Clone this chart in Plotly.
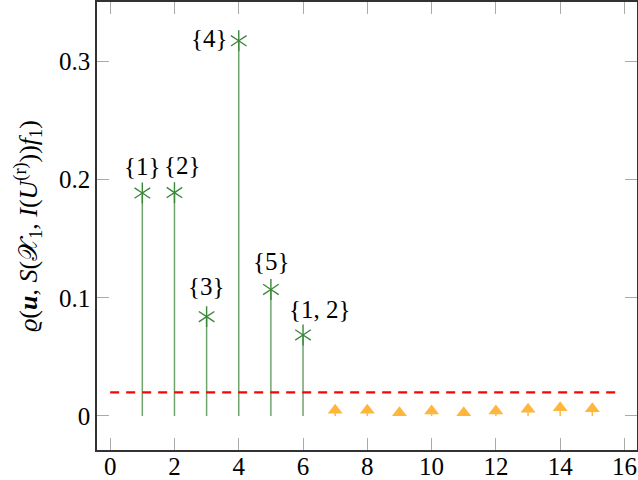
import plotly.graph_objects as go

# ---- data ----
sets_x = [1, 2, 3, 4, 5, 6]
sets_y = [0.1886, 0.189, 0.084, 0.3174, 0.107, 0.0685]
set_labels = ["{1}", "{2}", "{3}", "{4}", "{5}", "{1, 2}"]

rest_x = [7, 8, 9, 10, 11, 12, 13, 14, 15]
rest_y = [0.0048, 0.0048, 0.0028, 0.0042, 0.0028, 0.0042, 0.0057, 0.007, 0.0062]

threshold = 0.02
threshold_x = [0, 15.75]

x_ticks = [0, 2, 4, 6, 8, 10, 12, 14, 16]
y_ticks = [0, 0.1, 0.2, 0.3]
y_tick_text = ["0", "0.1", "0.2", "0.3"]

# label offsets (pixels) for the nodes near coords
label_shift = [(0, 27), (8, 27), (0, 30), (-29, 2), (1, 28), (17, 25)]

FONT = "Liberation Serif, Times New Roman, serif"
GREEN_STEM = "rgb(110,165,110)"
GREEN_MARK = "rgb(60,135,60)"
ORANGE = "rgb(255,182,60)"

def stems(xs, ys):
    sx, sy = [], []
    for x, y in zip(xs, ys):
        sx += [x, x, None]
        sy += [0, y, None]
    return sx, sy

fig = go.Figure()

gx, gy = stems(sets_x, sets_y)
fig.add_trace(go.Scatter(x=gx, y=gy, mode="lines",
                         line=dict(color=GREEN_STEM, width=1.5),
                         hoverinfo="skip", showlegend=False))
for sym in ["y-up-open", "y-down-open"]:
    fig.add_trace(go.Scatter(x=sets_x, y=sets_y, mode="markers",
                             marker=dict(symbol=sym, size=13, color=GREEN_MARK,
                                         line=dict(color=GREEN_MARK, width=1.4)),
                             hoverinfo="skip", showlegend=False))

ox, oy = stems(rest_x, rest_y)
fig.add_trace(go.Scatter(x=ox, y=oy, mode="lines",
                         line=dict(color=ORANGE, width=1.5),
                         hoverinfo="skip", showlegend=False))
fig.add_trace(go.Scatter(x=rest_x, y=rest_y, mode="markers",
                         marker=dict(symbol="triangle-up", size=13, color=ORANGE,
                                     line=dict(width=0)),
                         hoverinfo="skip", showlegend=False))

fig.add_trace(go.Scatter(x=threshold_x, y=[threshold, threshold], mode="lines",
                         line=dict(color="rgb(255,0,0)", width=2.2, dash="9px,7px"),
                         hoverinfo="skip", showlegend=False))

for x, y, t, (dx, dy) in zip(sets_x, sets_y, set_labels, label_shift):
    fig.add_annotation(x=x, y=y, text=t, showarrow=False, xshift=dx, yshift=dy,
                       font=dict(family=FONT, size=25, color="black"))

axis_common = dict(showgrid=False, zeroline=False, showline=True, mirror="allticks",
                   linecolor="rgb(50,50,50)", linewidth=1.5, automargin=False,
                   ticks="inside", ticklen=12, tickwidth=1, tickcolor="rgb(170,170,170)",
                   tickfont=dict(family=FONT, size=25, color="black"))

fig.update_xaxes(range=[-0.41, 16.39], tickvals=x_ticks,
                 ticktext=[str(v) for v in x_ticks], ticklabelstandoff=-7,
                 **axis_common)
fig.update_yaxes(range=[-0.0288, 0.3502], tickvals=y_ticks, ticktext=y_tick_text,
                 title=dict(text="<i>ϱ</i>(<b><i>u</i></b>, <i>S</i>(𝒳<sub>1</sub>, <i>I</i>(<i>U</i><sup>(r)</sup>))<i>f</i><sub>1</sub>)",
                            font=dict(family=FONT, size=26, color="black"), standoff=14),
                 **axis_common)

fig.update_layout(width=638, height=480,
                  margin=dict(l=97, r=1, t=2, b=30),
                  plot_bgcolor="white", paper_bgcolor="white")

fig.write_html("out.html")
